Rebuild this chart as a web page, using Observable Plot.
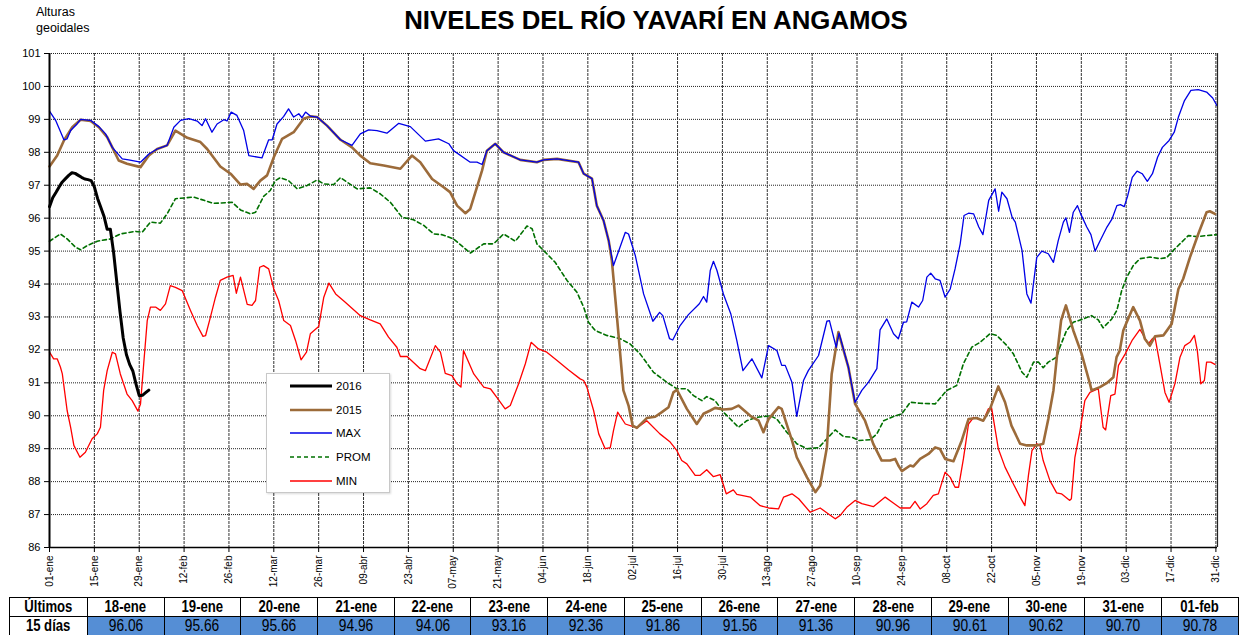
<!DOCTYPE html>
<html>
<head>
<meta charset="utf-8">
<script src="https://cdn.jsdelivr.net/npm/d3@7"></script>
<script src="https://cdn.jsdelivr.net/npm/@observablehq/plot@0.6"></script>
<style>
  html, body { margin: 0; padding: 0; background: #fff; overflow: hidden; }
  #wrap { position: relative; width: 1239px; height: 635px; font-family: "Liberation Sans", Arial, sans-serif; }
  #title { position: absolute; left: 306px; width: 700px; top: 6px; text-align: center; font-weight: bold; font-size: 25.8px; color: #000; white-space: nowrap; }
  #ylab { position: absolute; left: 36px; top: 4px; font-size: 12.5px; line-height: 16px; color: #000; }
  #chart { position: absolute; left: 0; top: 40px; }
  #legend { position: absolute; left: 266px; top: 373px; width: 122px; height: 118px; border: 1px solid #c8c8c8; background: #fff; box-shadow: 1px 1px 2px rgba(0,0,0,0.15); }
  #legend .row { position: absolute; left: 0; height: 24px; display: flex; align-items: center; font-size: 11.5px; }
  #legend svg { margin-left: 23px; margin-right: 4px; }
  #tbl { position: absolute; left: 9px; top: 597px; border-collapse: collapse; table-layout: fixed; font-family: "Liberation Sans", Arial, sans-serif; }
  #tbl td { border: 1px solid #000; height: 18px; padding: 0; text-align: center; width: 76px; font-size: 16px; line-height: 18px; overflow: hidden; white-space: nowrap; }
  #tbl td span { display: inline-block; transform: scaleX(0.82); transform-origin: 50% 50%; }
  #tbl tr.h td { font-weight: bold; }
  #tbl td.lab { font-weight: bold; width: 77px; }
  #tbl tr.v td.val { background: #558ed5; }
  #tbl tr.v td.val span { transform: scaleX(0.86); }
</style>
</head>
<body>
<div id="wrap">
  <div id="ylab">Alturas<br>geoidales</div>
  <div id="title">NIVELES DEL RÍO YAVARÍ EN ANGAMOS</div>
  <div id="chart"></div>
  <div id="legend"></div>
  <table id="tbl"></table>
</div>
<script>
// ---------- data ----------
const xTickDays = [0,14,28,42,56,70,84,98,112,126,140,154,168,182,196,210,224,238,252,266,280,294,308,322,336,350,364];
const xTickLabels = ["01-ene","15-ene","29-ene","12-feb","26-feb","12-mar","26-mar","09-abr","23-abr","07-may","21-may","04-jun","18-jun","02-jul","16-jul","30-jul","13-ago","27-ago","10-sep","24-sep","08-oct","22-oct","05-nov","19-nov","03-dic","17-dic","31-dic"];
const yTicks = [86,87,88,89,90,91,92,93,94,95,96,97,98,99,100,101];

const tableDates = ["18-ene","19-ene","20-ene","21-ene","22-ene","23-ene","24-ene","25-ene","26-ene","27-ene","28-ene","29-ene","30-ene","31-ene","01-feb"];
const tableValues = ["96.06","95.66","95.66","94.96","94.06","93.16","92.36","91.86","91.56","91.36","90.96","90.61","90.62","90.70","90.78"];

const s2016 = [[0,96.35],[1,96.62],[2,96.78],[3,96.95],[4,97.1],[5,97.2],[6,97.3],[7,97.38],[8,97.36],[9,97.3],[10,97.24],[11,97.19],[12,97.17],[13,97.14],[14,96.95],[15,96.6],[16,96.33],
  [17,96.06],[18,95.66],[19,95.66],[20,94.96],[21,94.06],[22,93.16],[23,92.36],[24,91.86],[25,91.56],[26,91.36],[27,90.96],[28,90.61],[29,90.62],[30,90.70],[31,90.78]];

const s2015 = [[0,97.57],[2.4,97.9],[4.5,98.36],[7.1,98.76],[9.7,98.99],[12.8,98.95],[15.4,98.76],[18,98.46],[19.6,98.15],[21.6,97.75],[24.2,97.65],[28.4,97.55],[31,97.9],[33.6,98.1],[36.7,98.21],[39.3,98.66],[43,98.44],[47.1,98.31],[49.2,98.1],[53.3,97.57],[56.5,97.35],[59.6,97.02],[61.7,97.04],[63.7,96.89],[65.8,97.14],[67.9,97.3],[70,97.85],[72.6,98.41],[76.2,98.61],[79.3,99.02],[81.4,99.09],[83.5,99.07],[86.6,98.81],[90.8,98.38],[94.4,98.15],[97,97.9],[100.1,97.67],[104.3,97.6],[109.5,97.5],[113.1,97.9],[115.7,97.7],[119.4,97.19],[123,96.94],[125,96.79],[127.2,96.38],[129.8,96.15],[131.3,96.28],[133.4,96.94],[135,97.45],[136.5,98.05],[139.1,98.26],[141.7,98.0],[146.9,97.77],[152.1,97.7],[154.2,97.77],[158.4,97.8],[165.1,97.7],[166.7,97.35],[169.3,97.2],[170.8,96.38],[172.9,95.93],[174.5,95.32],[175.5,94.71],[177,93.1],[179.1,90.77],[180.7,90.31],[182,89.7],[183.3,89.63],[186.4,89.93],[189,89.97],[191.1,90.11],[193.2,90.26],[194.7,90.71],[195.8,90.79],[198.9,90.21],[202,89.75],[204.1,90.06],[206.2,90.16],[207.7,90.24],[210.3,90.19],[212.9,90.21],[215,90.31],[218.7,90.0],[221.3,89.85],[222.8,89.5],[224.4,89.9],[227.5,90.26],[228.5,90.21],[231.7,89.25],[233.2,88.74],[236.4,88.13],[239,87.68],[240.5,87.88],[242.6,89.04],[244.1,91.27],[246.2,92.54],[249.3,91.48],[251.4,90.36],[254.5,89.85],[257.1,89.14],[259.7,88.64],[262.3,88.64],[263.9,88.69],[264.9,88.49],[266,88.32],[268.6,88.49],[269.6,88.46],[271.7,88.69],[274.3,88.84],[276.4,89.04],[277.9,88.99],[279.5,88.69],[282.1,88.62],[284.7,89.25],[286.8,89.9],[289.3,89.93],[291.4,89.85],[293.5,90.21],[296.1,90.89],[298.2,90.41],[300.2,89.7],[302.9,89.15],[305,89.1],[308.1,89.1],[310.1,89.15],[311.7,89.9],[313.3,90.77],[314.5,91.9],[315.7,92.9],[317.2,93.35],[319.5,92.59],[322.1,91.88],[324.7,90.97],[325.2,90.77],[327.8,90.87],[329.9,90.99],[332,91.17],[333,91.78],[334,91.98],[335.1,92.59],[336,92.8],[338.2,93.3],[340.3,92.89],[341.8,92.34],[343.4,92.13],[345,92.41],[347.6,92.44],[350.2,92.79],[352.3,93.85],[353.8,94.16],[355.9,94.81],[358.5,95.52],[361.1,96.18],[362.1,96.21],[363.7,96.13]];

const sMax = [[0,99.25],[1.9,98.97],[4.5,98.38],[5.5,98.41],[6.6,98.66],[8.6,98.86],[9.7,99.0],[12.8,98.97],[15.4,98.78],[17.5,98.56],[19.6,98.15],[22.7,97.8],[24.7,97.77],[28.4,97.7],[31,97.95],[33.6,98.1],[36.7,98.21],[38.8,98.76],[40.9,98.97],[43.5,99.02],[46.1,98.95],[47.6,98.81],[48.7,99.02],[50.7,98.61],[52.3,98.86],[54.4,98.99],[55.4,98.95],[56.7,99.22],[58.5,99.12],[60.6,98.66],[62.2,97.9],[66.3,97.83],[68.4,98.38],[69.5,98.38],[71,98.86],[73.1,99.09],[74.6,99.32],[76.2,99.07],[77.8,99.17],[78.8,99.05],[79.9,99.22],[81.4,99.1],[83.5,99.07],[86.6,98.81],[90.8,98.38],[94.4,98.21],[97,98.56],[99.6,98.68],[102.2,98.66],[105.3,98.58],[109,98.88],[112.6,98.78],[117.3,98.34],[121.4,98.41],[124.6,98.26],[126.1,98.05],[131.3,97.7],[133.4,97.7],[135,97.63],[136.5,98.05],[139.1,98.26],[141.7,98.0],[146.9,97.77],[152.1,97.7],[154.2,97.77],[158.4,97.8],[165.1,97.7],[166.7,97.35],[169.3,97.2],[170.8,96.38],[172.9,95.93],[174.5,95.32],[176,94.56],[179.7,95.57],[180.7,95.52],[182.8,94.87],[185.4,93.7],[188.3,92.87],[190.4,93.14],[191.4,93.04],[193.5,92.34],[194.5,92.3],[196.8,92.74],[199.4,93.07],[202.8,93.4],[204.1,93.62],[205.1,93.45],[206.2,94.41],[207.2,94.69],[208.3,94.41],[210.3,93.7],[212.6,93.1],[214.5,92.28],[216.4,91.37],[219.2,91.73],[222.3,91.15],[224.4,92.13],[227,91.98],[228.5,91.53],[229.6,91.53],[231.7,91.02],[233.2,89.98],[235.3,91.07],[236.8,91.37],[240,91.83],[242.6,92.87],[243.4,92.89],[245.5,92.08],[246.4,92.51],[249.3,91.48],[251.4,90.41],[253.5,90.77],[255.6,91.02],[258.2,91.43],[259.2,92.61],[261.3,92.94],[263.4,92.49],[264.9,92.34],[266.5,92.84],[267.5,92.85],[269.1,93.45],[271.2,93.3],[272.5,93.5],[273.8,94.21],[275,94.33],[276.4,94.16],[277.9,94.11],[279.5,93.6],[281.1,93.85],[282.6,94.46],[284.2,95.22],[285.4,96.08],[286.8,96.15],[288.4,96.13],[290,95.73],[291.3,95.5],[293.1,96.54],[295.1,96.89],[296.2,96.21],[297.2,96.79],[298.8,96.59],[300.4,96.03],[301.4,95.88],[303.5,95.02],[305,93.7],[306.3,93.42],[308.1,94.81],[309.7,95.0],[311.7,94.92],[313.3,94.66],[314.8,95.32],[316.4,95.88],[317.2,96.01],[318.3,95.57],[319.5,96.18],[320.8,96.38],[321.8,96.13],[323.7,95.73],[325,95.5],[326.3,95.0],[327.9,95.32],[330,95.73],[331.6,95.98],[333.1,96.38],[334.2,96.41],[335.4,96.35],[336.5,96.69],[337.9,97.24],[339.4,97.43],[341,97.35],[342.6,97.12],[344.2,97.35],[345.8,97.85],[347.3,98.15],[349.4,98.36],[351,98.61],[352.3,99.07],[354.2,99.57],[356.2,99.88],[358.5,99.9],[361.1,99.83],[363,99.65],[364.3,99.42]];

const sProm = [[0,95.3],[3.4,95.52],[5.5,95.37],[8.1,95.12],[9.7,95.04],[11.8,95.17],[14.9,95.3],[19,95.37],[22.1,95.52],[26.8,95.6],[28.9,95.57],[31.5,95.88],[34.6,95.85],[36.7,96.13],[39.3,96.59],[45,96.64],[51.2,96.45],[57,96.48],[59.6,96.25],[62.7,96.13],[64.3,96.18],[66.8,96.66],[68.9,96.84],[70.5,97.14],[72,97.23],[74.6,97.14],[77.3,96.89],[80.4,96.99],[83.5,97.16],[85.6,97.04],[88.7,97.02],[90.8,97.23],[92.9,97.09],[96,96.89],[100.1,96.92],[103.2,96.74],[106.4,96.48],[110,96.03],[113.6,95.95],[116.8,95.78],[119.9,95.52],[122.5,95.5],[126.1,95.37],[131.3,94.94],[135.5,95.22],[138.6,95.22],[141.7,95.52],[145.4,95.3],[149,95.76],[150.6,95.68],[152.1,95.22],[155.2,94.92],[157.8,94.66],[161.5,94.11],[164.6,93.75],[166.7,93.3],[168.2,92.84],[170.3,92.59],[173.9,92.44],[178.1,92.34],[181.2,92.18],[184.3,91.88],[188.5,91.32],[192.6,91.02],[195.8,90.82],[198.9,90.82],[201,90.61],[203.6,90.46],[205.1,90.58],[207.7,90.46],[210.3,90.11],[212.4,89.91],[215,89.65],[217.6,89.85],[220.7,89.95],[224.9,90.0],[227,89.9],[230.1,89.5],[233.2,89.15],[236.4,89.0],[240,89.03],[242.6,89.3],[245.2,89.57],[247.8,89.37],[250.4,89.35],[252.5,89.25],[256.1,89.27],[258.2,89.45],[260.3,89.85],[263.4,89.98],[266,90.06],[268.6,90.41],[271.7,90.38],[276.4,90.36],[280,90.77],[283.1,90.92],[285.2,91.58],[287.8,92.08],[290.4,92.23],[293.5,92.49],[295.6,92.44],[298.8,92.13],[300.8,91.88],[303.5,91.32],[305,91.17],[307.1,91.63],[308.6,91.63],[310.1,91.46],[311.7,91.63],[314.3,91.78],[315.3,92.08],[317.4,92.59],[319.5,92.84],[322.6,92.94],[325.2,93.04],[327.3,92.91],[328.8,92.67],[331.5,92.94],[333.1,93.2],[334.6,93.8],[336.2,94.21],[338.2,94.56],[340.3,94.77],[343.4,94.82],[346.5,94.77],[348.6,94.8],[350.7,95.02],[353.3,95.27],[355.4,95.47],[358,95.44],[361.1,95.47],[364.3,95.5]];

const sMin = [[0,91.93],[1.3,91.73],[2.4,91.73],[3.4,91.48],[4,91.27],[5.5,90.16],[6.6,89.65],[7.6,89.1],[9.5,88.74],[11.2,88.89],[13.3,89.3],[14.9,89.45],[15.9,89.65],[16.9,90.77],[18,91.37],[19.6,91.93],[20.6,91.88],[22.1,91.27],[24.2,90.66],[25.8,90.46],[27.6,90.14],[28.4,90.36],[29.4,91.58],[30.5,92.89],[31.5,93.3],[33.1,93.3],[34.6,93.2],[36.2,93.4],[37.7,93.95],[39.3,93.9],[41.4,93.8],[44,93.2],[46.1,92.74],[47.9,92.41],[48.7,92.43],[50.2,92.99],[51.8,93.6],[53.3,94.11],[55.4,94.21],[57.3,94.26],[58.3,93.72],[59.6,94.21],[61.7,93.38],[63.2,93.35],[64.3,93.5],[65.6,94.51],[66.8,94.56],[68.4,94.46],[70,93.85],[71.5,93.5],[73.1,92.89],[75.2,92.74],[76.8,92.28],[78.5,91.7],[80.2,91.93],[81.4,92.49],[84,92.71],[85.6,93.6],[87.2,94.03],[89.3,93.7],[92.3,93.45],[97,93.04],[100.1,92.91],[103.2,92.79],[105.8,92.39],[108.4,92.08],[109.5,91.8],[111.6,91.8],[115.7,91.43],[117.3,91.37],[120.4,92.13],[122,91.93],[123.5,91.29],[125.6,91.22],[127.2,90.97],[128.4,90.87],[129.2,91.98],[132.4,91.27],[135.5,90.87],[137.6,90.82],[139.6,90.56],[142.2,90.21],[143.8,90.31],[146.4,90.97],[148.5,91.58],[150.3,92.23],[152.6,92.03],[155.2,91.93],[158.4,91.68],[162,91.39],[165.6,91.12],[166.7,91.07],[167.7,90.87],[169.8,90.16],[171.4,89.45],[173.4,89.0],[175,89.03],[176,89.55],[177.3,90.11],[179.7,89.75],[183.3,89.63],[186.4,89.85],[190.5,89.45],[193.7,89.2],[195.8,88.94],[197.3,88.64],[198.9,88.54],[201.5,88.19],[203,88.19],[205.1,88.36],[207.2,88.15],[209.3,88.21],[211.2,87.63],[213.4,87.75],[214.5,87.61],[218.7,87.53],[221.8,87.27],[224.4,87.2],[227.5,87.17],[229.1,87.53],[231.7,87.63],[233.8,87.48],[237.4,87.07],[240.5,87.2],[243.1,87.02],[245.2,86.87],[246.7,86.97],[248.8,87.22],[251.4,87.43],[253.5,87.33],[257.1,87.24],[260.8,87.53],[262.9,87.38],[265.5,87.2],[268.6,87.2],[270.1,87.4],[271.7,87.17],[273.8,87.33],[275.8,87.58],[277.4,87.63],[279.5,88.29],[281.1,88.13],[282.6,87.83],[283.7,87.83],[285.2,88.69],[286.8,89.75],[288.4,89.95],[291.4,89.85],[293,90.21],[294,90.24],[296.1,89.0],[298.2,88.44],[300.8,87.93],[302.9,87.53],[304.4,87.27],[305.5,88.19],[306.6,88.94],[308.1,89.15],[309.1,89.1],[310.1,88.64],[312.2,88.03],[314.3,87.66],[315.8,87.63],[318.4,87.43],[318.9,87.48],[320,88.74],[321.6,89.55],[323.1,90.46],[324.7,90.71],[327.3,90.82],[328.8,89.65],[329.6,89.57],[330.4,90.11],[331.2,90.61],[332.5,90.66],[333.6,91.53],[335.7,91.88],[337.8,92.28],[340.3,92.62],[342.9,92.18],[344.2,92.34],[345,92.38],[346.5,91.58],[348.1,90.71],[349.4,90.41],[351.2,90.97],[352.8,91.78],[354.3,92.13],[355.9,92.23],[357.3,92.44],[358.2,91.98],[359.3,90.97],[360.4,91.07],[361.1,91.63],[362.4,91.63],[363.7,91.56]];

const seriesNames = ["2016","2015","MAX","PROM","MIN"];
const seriesColors = ["#000000","#9c6b3a","#0000e6","#007000","#ff0000"];
const seriesWidths = [3,2.6,1.3,1.6,1.3];
const seriesDash = [null,null,null,"4,3",null];

// ---------- chart ----------
const labelOf = new Map(xTickDays.map((d, i) => [d, xTickLabels[i]]));
const X = d => d[0], Y = d => d[1];

const chart = Plot.plot({
  width: 1239,
  height: 557,
  marginTop: 13,
  marginBottom: 50,
  marginLeft: 49,
  marginRight: 22,
  style: {fontFamily: "'Liberation Sans', Arial, sans-serif", fontSize: "11px", background: "#fff", color: "#000"},
  x: {domain: [0, 364.5]},
  y: {domain: [86, 101]},
  marks: [
    Plot.ruleY(yTicks, {stroke: "#222", strokeWidth: 1, strokeDasharray: "1,1"}),
    Plot.ruleX(xTickDays, {stroke: "#333", strokeWidth: 1, strokeDasharray: "3,1"}),
    Plot.line(sProm, {x: X, y: Y, stroke: seriesColors[3], strokeWidth: seriesWidths[3], strokeDasharray: seriesDash[3]}),
    Plot.line(sMin, {x: X, y: Y, stroke: seriesColors[4], strokeWidth: seriesWidths[4]}),
    Plot.line(s2015, {x: X, y: Y, stroke: seriesColors[1], strokeWidth: seriesWidths[1]}),
    Plot.line(sMax, {x: X, y: Y, stroke: seriesColors[2], strokeWidth: seriesWidths[2]}),
    Plot.line(s2016, {x: X, y: Y, stroke: seriesColors[0], strokeWidth: seriesWidths[0]}),
    Plot.ruleX([0], {stroke: "#000", strokeWidth: 2}),
    Plot.ruleX([364.5], {stroke: "#222", strokeWidth: 1.2}),
    Plot.ruleY([86], {stroke: "#000", strokeWidth: 1.5}),
    Plot.axisY({ticks: yTicks, tickSize: 5, tickPadding: 4, fontSize: 11, label: null, tickFormat: d => String(d)}),
    Plot.axisX({ticks: xTickDays, tickSize: 5, tickPadding: 3, tickRotate: -90, fontSize: 10, label: null, tickFormat: d => labelOf.get(d)})
  ]
});
document.getElementById("chart").appendChild(chart);

// ---------- legend ----------
const legend = document.getElementById("legend");
seriesNames.forEach((name, i) => {
  const row = document.createElement("div");
  row.className = "row";
  row.style.top = (i * 23.7) + "px";
  const dash = seriesDash[i] ? ` stroke-dasharray="${seriesDash[i]}"` : "";
  row.innerHTML = `<svg width="42" height="8"><line x1="0" y1="4" x2="42" y2="4" stroke="${seriesColors[i]}" stroke-width="${seriesWidths[i]}"${dash}/></svg><span>${name}</span>`;
  legend.appendChild(row);
});

// ---------- table ----------
const tbl = document.getElementById("tbl");
const r1 = document.createElement("tr"); r1.className = "h";
r1.innerHTML = `<td class="lab"><span>Últimos</span></td>` + tableDates.map(d => `<td><span>${d}</span></td>`).join("");
const r2 = document.createElement("tr"); r2.className = "v";
r2.innerHTML = `<td class="lab"><span>15 días</span></td>` + tableValues.map(v => `<td class="val"><span>${v}</span></td>`).join("");
tbl.appendChild(r1); tbl.appendChild(r2);
</script>
</body>
</html>
